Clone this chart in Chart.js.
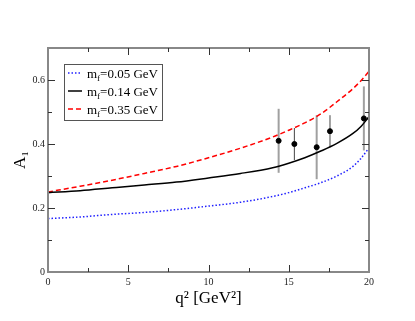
<!DOCTYPE html>
<html>
<head>
<meta charset="utf-8">
<script src="https://cdn.jsdelivr.net/npm/chart.js@4.4.1/dist/chart.umd.min.js"></script>
<style>
  html, body { margin: 0; padding: 0; background: #fff; }
  #wrap { width: 415px; height: 321px; }
</style>
</head>
<body>
<div id="wrap"><canvas id="myChart" width="415" height="321"></canvas></div>
<script>
// curves
let q2 = [0, 2, 4, 6, 8, 10, 12, 14, 15, 16, 17, 18, 19, 19.5, 20];
let mf005 = [0.167, 0.172, 0.18, 0.186, 0.195, 0.206, 0.218, 0.236, 0.248, 0.263, 0.279, 0.3, 0.33, 0.355, 0.388];
let mf014 = [0.248, 0.254, 0.263, 0.272, 0.281, 0.294, 0.308, 0.326, 0.34, 0.357, 0.378, 0.402, 0.433, 0.455, 0.485];
let mf035 = [0.25, 0.268, 0.287, 0.308, 0.33, 0.357, 0.387, 0.422, 0.443, 0.466, 0.494, 0.532, 0.573, 0.598, 0.627];

// lattice points with errors
let pointX = [14.37, 15.35, 16.74, 17.57, 19.68];
let pointY = [0.41, 0.40, 0.39, 0.44, 0.48];
let pointErr = [0.10, 0.05, 0.10, 0.05, 0.10];

let legendLabels = ['0.05', '0.14', '0.35'];
let xTicks = [0, 5, 10, 15, 20];
let yTicks = [0, 0.2, 0.4, 0.6];

const serif = "'Liberation Serif', 'DejaVu Serif', serif";

function toXY(xs, ys) {
  return xs.map((x, i) => ({ x: x, y: ys[i] }));
}

const errorBars = {
  id: 'errorBars',
  beforeDatasetsDraw(chart) {
    const ctx = chart.ctx;
    const xs = chart.scales.x, ys = chart.scales.y;
    ctx.save();
    for (let i = 0; i < pointX.length; i++) {
      let px = xs.getPixelForValue(pointX[i]);
      let top = ys.getPixelForValue(pointY[i] + pointErr[i]);
      let bot = ys.getPixelForValue(pointY[i] - pointErr[i]);
      // the wide bars look lighter in the picture
      if (pointErr[i] > 0.07) {
        ctx.strokeStyle = '#a0a0a0';
        ctx.lineWidth = 2;
      } else {
        ctx.strokeStyle = '#444';
        ctx.lineWidth = 1;
      }
      ctx.beginPath();
      ctx.moveTo(px, top);
      ctx.lineTo(px, bot);
      ctx.stroke();
    }
    ctx.restore();
  }
};

const frameTicks = {
  id: 'frameTicks',
  afterDraw(chart) {
    const ctx = chart.ctx;
    const a = chart.chartArea;
    const xs = chart.scales.x, ys = chart.scales.y;
    ctx.save();
    ctx.strokeStyle = '#888';
    ctx.lineWidth = 2;
    ctx.strokeRect(a.left, a.top, a.right - a.left, a.bottom - a.top);

    // inward ticks on all four sides
    ctx.strokeStyle = '#333';
    ctx.lineWidth = 1;
    ctx.beginPath();
    for (let k = 1; k < 8; k++) {
      let v = k * 2.5;
      let len = (k % 2 === 0) ? 7 : 4;
      let px = Math.round(xs.getPixelForValue(v)) + 0.5;
      ctx.moveTo(px, a.bottom); ctx.lineTo(px, a.bottom - len);
      ctx.moveTo(px, a.top); ctx.lineTo(px, a.top + len);
    }
    for (let k = 1; k < 7; k++) {
      let len = (k % 2 === 0) ? 7 : 4;
      let py = Math.round(ys.getPixelForValue(k / 10)) + 0.5;
      ctx.moveTo(a.left, py); ctx.lineTo(a.left + len, py);
      ctx.moveTo(a.right, py); ctx.lineTo(a.right - len, py);
    }
    ctx.stroke();

    // legend box
    const bx = 64, by = 64, bw = 98, bh = 56;
    ctx.fillStyle = '#fff';
    ctx.fillRect(bx, by, bw, bh);
    ctx.strokeStyle = '#555';
    ctx.lineWidth = 1;
    ctx.strokeRect(bx + 0.5, by + 0.5, bw, bh);
    const ds = chart.data.datasets;
    for (let i = 0; i < 3; i++) {
      let cy = by + 9 + i * 18;
      ctx.strokeStyle = ds[i].borderColor;
      ctx.lineWidth = 1.5;
      ctx.setLineDash(ds[i].borderDash || []);
      ctx.beginPath();
      ctx.moveTo(bx + 4, cy);
      ctx.lineTo(bx + 18, cy);
      ctx.stroke();
      ctx.setLineDash([]);
      ctx.fillStyle = '#000';
      ctx.textBaseline = 'alphabetic';
      let tx = bx + 23, base = cy + 5;
      ctx.font = '13px ' + serif;
      ctx.fillText('m', tx, base);
      tx += ctx.measureText('m').width;
      ctx.font = '9px ' + serif;
      ctx.fillText('f', tx, base + 3);
      tx += ctx.measureText('f').width;
      ctx.font = '13px ' + serif;
      ctx.fillText('=' + legendLabels[i] + ' GeV', tx, base);
    }
    ctx.restore();
  }
};

var ctx = document.getElementById('myChart').getContext('2d');
var myChart = new Chart(ctx, {
  type: 'scatter',
  data: {
    datasets: [{
      label: 'mf=0.05 GeV',
      data: toXY(q2, mf005),
      showLine: true,
      borderColor: '#2020ff',
      borderWidth: 1.5,
      borderDash: [1.5, 2],
      pointRadius: 0,
      cubicInterpolationMode: 'monotone'
    }, {
      label: 'mf=0.14 GeV',
      data: toXY(q2, mf014),
      showLine: true,
      borderColor: '#000',
      borderWidth: 1.5,
      pointRadius: 0,
      cubicInterpolationMode: 'monotone'
    }, {
      label: 'mf=0.35 GeV',
      data: toXY(q2, mf035),
      showLine: true,
      borderColor: '#ff0000',
      borderWidth: 1.5,
      borderDash: [5, 3],
      pointRadius: 0,
      cubicInterpolationMode: 'monotone'
    }, {
      label: 'data',
      data: toXY(pointX, pointY),
      showLine: false,
      pointRadius: 2.5,
      pointBackgroundColor: '#000',
      pointBorderColor: '#000'
    }]
  },
  plugins: [errorBars, frameTicks],
  options: {
    responsive: false,
    animation: false,
    events: [],
    layout: { padding: { top: 48, right: 46, left: 0, bottom: 0 } },
    plugins: { legend: { display: false }, tooltip: { enabled: false } },
    scales: {
      x: {
        type: 'linear',
        min: 0,
        max: 20,
        afterBuildTicks: (s) => { s.ticks = xTicks.map(v => ({ value: v })); },
        afterFit: (s) => { s.height = 49; },
        grid: { display: false, drawTicks: false },
        border: { display: false },
        ticks: { padding: 4, color: '#222', font: { family: serif, size: 10 }, maxRotation: 0 },
        title: { display: true, text: 'q² [GeV²]', color: '#000', font: { family: serif, size: 17 }, padding: { top: 0, bottom: 12 } }
      },
      y: {
        min: 0,
        max: 0.7,
        afterBuildTicks: (s) => { s.ticks = yTicks.map(v => ({ value: v })); },
        afterFit: (s) => { s.width = 48; },
        grid: { display: false, drawTicks: false },
        border: { display: false },
        ticks: { padding: 3, color: '#222', font: { family: serif, size: 10 } },
        title: { display: true, text: 'A₁', color: '#000', font: { family: serif, size: 17 }, padding: { top: 10, bottom: 0 } }
      }
    }
  }
});
</script>
</body>
</html>
